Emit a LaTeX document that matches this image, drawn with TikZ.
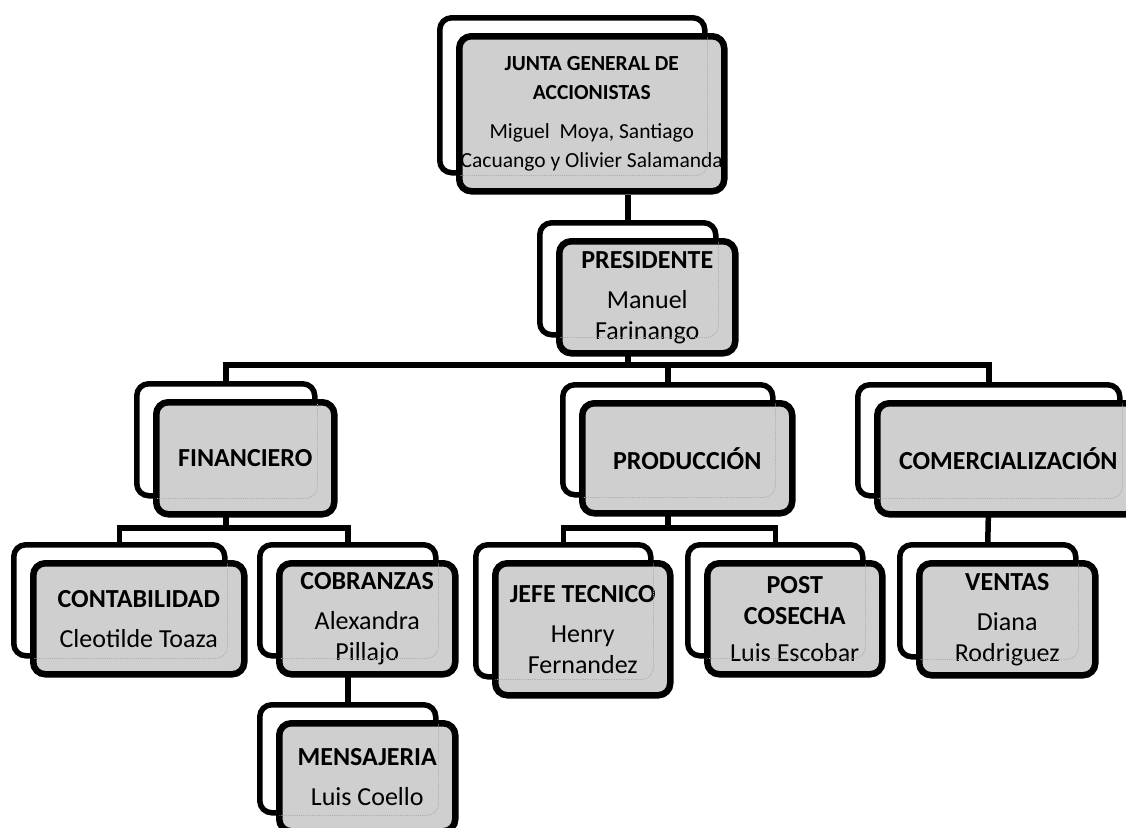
\documentclass[tikz,border=0pt]{standalone}
\usepackage{fontspec}
\setmainfont{Carlito}
\usetikzlibrary{backgrounds}

\tikzset{
  backbox/.style={draw=black, fill=white, line width=5.5pt, rounded corners=12pt,
    inner sep=0pt, anchor=north west},
  frontbox/.style={draw=black, fill=gray!38, line width=6.5pt, rounded corners=12pt,
    inner sep=0pt, anchor=north west, align=center,
    font=\fontsize{26}{31}\selectfont},
  smalltext/.style={font=\fontsize{21.5}{28.5}\selectfont},
  seethrough/.style={draw=gray!65, line width=0.9pt, dash pattern=on 1pt off 1.2pt,
    rounded corners=12pt},
  link/.style={draw=black, line width=5.5pt}
}

% [#1 extra options of the front card], #2 name, #3 left, #4 top (of the rear card),
% #5 width, #6 height, #7 text
\newcommand\orgcard[7][]{%
  \node[backbox, minimum width=#5pt, minimum height=#6pt] (#2b) at (#3,#4) {};
  \node[frontbox, minimum width=#5pt, minimum height=#6pt, #1] (#2) at (#3+19,#4+18) {#7};
  \begin{scope}
    \clip[rounded corners=9pt] ([xshift=3.5pt,yshift=3.5pt]#2.south west)
      rectangle ([xshift=-3.5pt,yshift=-3.5pt]#2.north east);
    \draw[seethrough] (#2b.south west) rectangle (#2b.north east);
  \end{scope}}

\begin{document}
\begin{tikzpicture}[x=1pt, y=-1pt]
\useasboundingbox (0,0) rectangle (1126,827);

\orgcard[smalltext]{junta}{437}{15}{265}{155}{\textbf{JUNTA GENERAL DE}\\\textbf{ACCIONISTAS}\\[11pt]Miguel\ \ Moya, Santiago\\Cacuango y Olivier Salamanda}
\orgcard{pres}{537}{220}{176}{112}{\textbf{PRESIDENTE}\\[9pt]Manuel\\Farinango}
\orgcard{fin}{134}{381}{178}{112}{\textbf{FINANCIERO}}
\orgcard{prod}{560}{382}{210}{110}{\textbf{PRODUCCIÓN}}
\orgcard{com}{855}{382}{262}{111}{\textbf{COMERCIALIZACIÓN}}
\orgcard{cont}{11}{542}{211}{111}{\textbf{CONTABILIDAD}\\[9pt]Cleotilde Toaza}
\orgcard{cob}{257}{542}{176}{111}{\textbf{COBRANZAS}\\[9pt]Alexandra\\Pillajo}
\orgcard{jefe}{473}{542}{175}{132}{\textbf{JEFE TECNICO}\\[9pt]Henry\\Fernandez}
\orgcard{post}{685}{542}{175}{111}{\textbf{POST}\\\textbf{COSECHA}\\[6pt]Luis Escobar}
\orgcard{vent}{897}{542}{176}{112}{\textbf{VENTAS}\\[9pt]Diana\\Rodriguez}
\orgcard{mens}{257}{702}{176}{108}{\textbf{MENSAJERIA}\\[9pt]Luis Coello}

% levels of the horizontal bars
\coordinate (bus1) at (0,365);
\coordinate (bus2) at (0,528);

\begin{scope}[on background layer]
  \draw[link] (presb.north) -- (presb.north |- junta.south);
  \draw[link] (presb.south) -- (presb.south |- bus1);
  \draw[link] (finb.north) |- (comb.north |- bus1) -- (comb.north);
  \draw[link] (prodb.north) -- (prodb.north |- bus1);
  \draw[link] (finb.south) -- (finb.south |- bus2);
  \draw[link] (contb.north) |- (cobb.north |- bus2) -- (cobb.north);
  \draw[link] (prodb.south) -- (prodb.south |- bus2);
  \draw[link] (jefeb.north) |- (postb.north |- bus2) -- (postb.north);
  \draw[link] (comb.south) -- (ventb.north);
  \draw[link] (cobb.south) -- (mensb.north);
\end{scope}
\end{tikzpicture}
\end{document}
